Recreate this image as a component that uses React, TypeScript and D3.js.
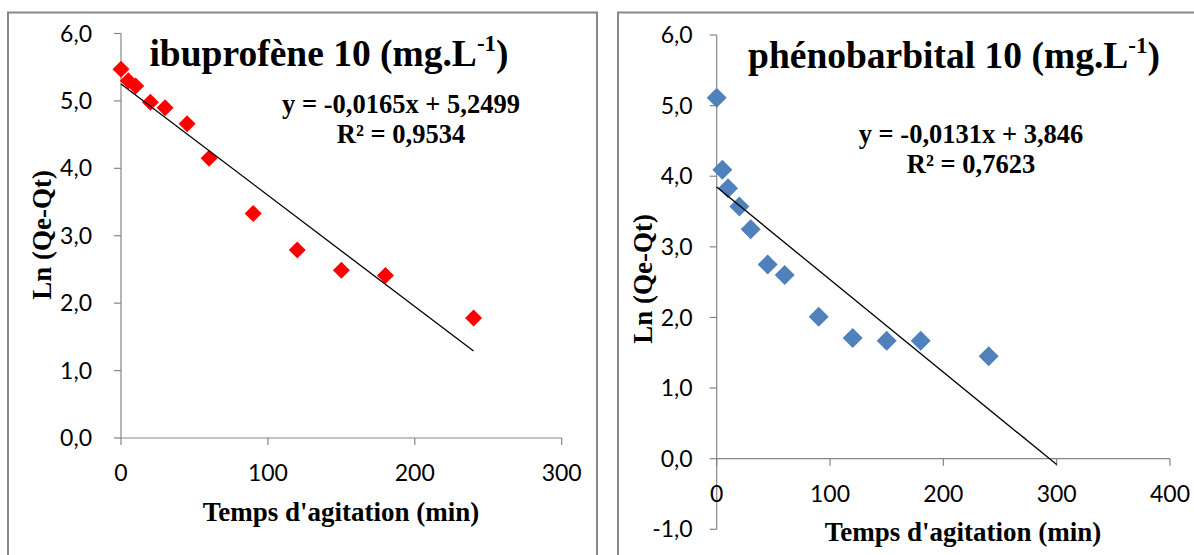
import React from "react";
import * as d3 from "d3";

// ---------- data ----------
const timesMin = [0, 5, 10, 20, 30, 45, 60, 90, 120, 150, 180, 240];
const ibuprofeneLn = [5.47, 5.3, 5.22, 4.98, 4.9, 4.66, 4.15, 3.33, 2.79, 2.49, 2.41, 1.78];
const phenobarbitalLn = [5.11, 4.09, 3.83, 3.57, 3.25, 2.75, 2.6, 2.01, 1.71, 1.67, 1.67, 1.45];

const ibuTrend = { slope: -0.0165, intercept: 5.2499, xMax: 240 };
const phenoTrend = { slope: -0.0131, intercept: 3.846, xMax: 300 };

const ibuXTicks = [0, 100, 200, 300];
const ibuYTicks = [0, 1, 2, 3, 4, 5, 6];
const phenoXTicks = [0, 100, 200, 300, 400];
const phenoYTicks = [-1, 0, 1, 2, 3, 4, 5, 6];

const ibuTitle = "ibuprofène 10 (mg.L";
const phenoTitle = "phénobarbital 10 (mg.L";
const ibuEq = "y = -0,0165x + 5,2499";
const ibuR2 = "R² = 0,9534";
const phenoEq = "y = -0,0131x + 3,846";
const phenoR2 = "R² = 0,7623";
const xTitle = "Temps d'agitation (min)";
const yTitle = "Ln (Qe-Qt)";

const SERIF = "'Liberation Serif', 'Times New Roman', serif";
const SANS = "Lato, Carlito, Calibri, sans-serif";
const AXIS = "#868686";

const fmt = (v: number) => v.toFixed(1).replace(".", ",");

type PanelProps = {
  box: [number, number, number, number];
  xDomain: [number, number];
  xRange: [number, number];
  yDomain: [number, number];
  yRange: [number, number];
  xTicks: number[];
  yTicks: number[];
  xs: number[];
  ys: number[];
  trend: { slope: number; intercept: number; xMax: number };
  color: string;
  marker: number;
  title: string;
  titleX: number;
  titleY: number;
  eq: string;
  r2: string;
  eqX: number;
  eqY: number;
  xTitleX: number;
  xTitleY: number;
  yTitleX: number;
  yTitleY: number;
  yLabelGap: number;
};

function Panel(p: PanelProps) {
  const x = d3.scaleLinear().domain(p.xDomain).range(p.xRange);
  const y = d3.scaleLinear().domain(p.yDomain).range(p.yRange);
  const x0 = x(0);
  const y0 = y(0);
  const line = d3
    .line<number>()
    .x((d) => x(d))
    .y((d) => y(p.trend.slope * d + p.trend.intercept));
  const s = p.marker;
  const diamondPath = `M0,${-s}L${s},0L0,${s}L${-s},0Z`;
  const [bx, by, bw, bh] = p.box;
  return (
    <g>
      <rect x={bx} y={by} width={bw} height={bh} fill="#fff" stroke="#878787" strokeWidth={2} />
      {/* y axis */}
      <line x1={x0} x2={x0} y1={y(p.yDomain[0])} y2={y(p.yDomain[1])} stroke={AXIS} strokeWidth={1.2} />
      {p.yTicks.map((t) => (
        <g key={"yt" + t}>
          <line x1={x0 - 7} x2={x0} y1={y(t)} y2={y(t)} stroke={AXIS} strokeWidth={1.2} />
          <text
            x={x0 - p.yLabelGap}
            y={y(t)}
            dy="0.35em"
            textAnchor="end"
            fontFamily={SANS}
            fontSize={23}
            fill="#000"
          >
            {fmt(t)}
          </text>
        </g>
      ))}
      {/* x axis at y = 0 */}
      <line x1={x(p.xDomain[0])} x2={x(p.xDomain[1])} y1={y0} y2={y0} stroke={AXIS} strokeWidth={1.2} />
      {p.xTicks.map((t) => (
        <g key={"xt" + t}>
          <line x1={x(t)} x2={x(t)} y1={y0} y2={y0 + 7} stroke={AXIS} strokeWidth={1.2} />
          <text
            x={x(t)}
            y={y0 + 35}
            dy="0.35em"
            textAnchor="middle"
            fontFamily={SANS}
            fontSize={23}
            fill="#000"
          >
            {t}
          </text>
        </g>
      ))}
      {/* points */}
      {p.xs.map((xv, i) => (
        <path
          key={"pt" + i}
          d={diamondPath}
          transform={`translate(${x(xv)},${y(p.ys[i])})`}
          fill={p.color}
        />
      ))}
      {/* trendline */}
      <path d={line([0, p.trend.xMax]) || ""} stroke="#000" strokeWidth={1.3} fill="none" />
      {/* title */}
      <text x={p.titleX} y={p.titleY} textAnchor="middle" fontFamily={SERIF} fontWeight="bold" fontSize={37.5} fill="#000">
        {p.title}
        <tspan fontSize={23} dy={-15}>-1</tspan>
        <tspan dy={15}>)</tspan>
      </text>
      {/* equation */}
      <text x={p.eqX} y={p.eqY} textAnchor="middle" fontFamily={SERIF} fontWeight="bold" fontSize={26.5} fill="#000">
        {p.eq}
      </text>
      <text x={p.eqX} y={p.eqY + 30} textAnchor="middle" fontFamily={SERIF} fontWeight="bold" fontSize={26.5} fill="#000">
        {p.r2}
      </text>
      {/* axis titles */}
      <text x={p.xTitleX} y={p.xTitleY} textAnchor="middle" fontFamily={SERIF} fontWeight="bold" fontSize={27} fill="#000">
        {xTitle}
      </text>
      <text
        transform={`translate(${p.yTitleX},${p.yTitleY}) rotate(-90)`}
        textAnchor="middle"
        fontFamily={SERIF}
        fontWeight="bold"
        fontSize={27}
        fill="#000"
      >
        {yTitle}
      </text>
    </g>
  );
}

export default function App() {
  return (
    <svg
      width={1194}
      height={555}
      style={{ position: "absolute", left: 0, top: 0, background: "#fff" }}
    >
      <rect x={0} y={0} width={1194} height={555} fill="#fff" />
      <Panel
        box={[8, 12.5, 589, 560]}
        xDomain={[0, 300]}
        xRange={[121, 561.7]}
        yDomain={[0, 6]}
        yRange={[438, 33.5]}
        xTicks={ibuXTicks}
        yTicks={ibuYTicks}
        xs={timesMin}
        ys={ibuprofeneLn}
        trend={ibuTrend}
        color="#FF0000"
        marker={8.5}
        title={ibuTitle}
        titleX={329}
        titleY={66}
        eq={ibuEq}
        r2={ibuR2}
        eqX={401}
        eqY={113}
        xTitleX={341}
        xTitleY={521}
        yTitleX={51}
        yTitleY={235}
        yLabelGap={29}
      />
      <Panel
        box={[618, 12.5, 600, 560]}
        xDomain={[0, 400]}
        xRange={[716.7, 1170]}
        yDomain={[-1, 6]}
        yRange={[529.3, 35]}
        xTicks={phenoXTicks}
        yTicks={phenoYTicks}
        xs={timesMin}
        ys={phenobarbitalLn}
        trend={phenoTrend}
        color="#4F81BD"
        marker={10}
        title={phenoTitle}
        titleX={954}
        titleY={68}
        eq={phenoEq}
        r2={phenoR2}
        eqX={971}
        eqY={143}
        xTitleX={963}
        xTitleY={541}
        yTitleX={652}
        yTitleY={279}
        yLabelGap={24}
      />
    </svg>
  );
}
